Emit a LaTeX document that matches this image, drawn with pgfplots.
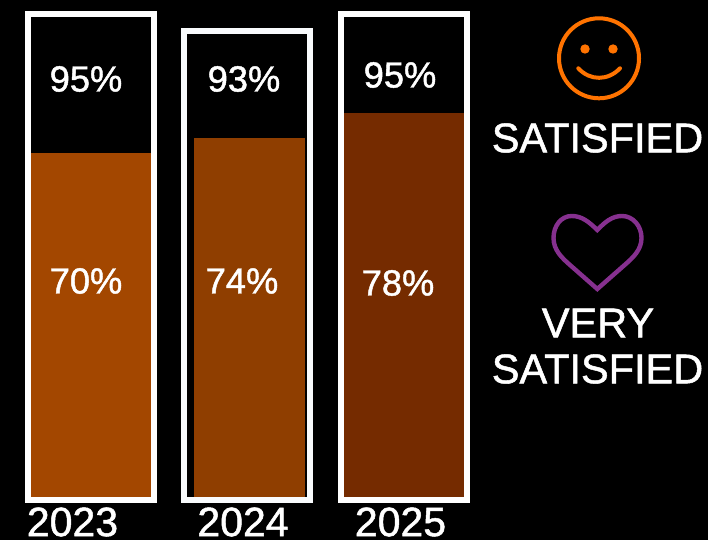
\documentclass[border=0pt]{standalone}
\usepackage{pgfplots}
\pgfplotsset{compat=1.18}
\usepackage{fontspec}
\setmainfont{Liberation Sans}[RawFeature={embolden=1.2}]
\definecolor{c23}{HTML}{A34700}
\definecolor{c24}{HTML}{8F3E00}
\definecolor{c25}{HTML}{752B00}
\definecolor{frame}{HTML}{F9FBFD}
\definecolor{smile}{HTML}{FF7300}
\definecolor{heart}{HTML}{86308F}
\newcommand{\sz}[1]{\fontsize{#1}{#1}\selectfont}
\tikzset{lab/.style={text=white, inner sep=0pt, outer sep=0pt, anchor=center, font=\sz{#1}}}
\begin{document}
\begin{tikzpicture}[x=1pt,y=1pt]
\useasboundingbox (0,0) rectangle (708,540);
\fill[black] (0,0) rectangle (708,540);
\begin{axis}[
  at={(0pt,0pt)}, anchor=south west,
  scale only axis, width=708pt, height=540pt,
  xmin=0, xmax=708, ymin=-40, ymax=500,
  hide axis, clip=false,
  ybar,
]
% Very satisfied (filled part); y = height in reference pixels above the bar base
\addplot[bar shift=0pt, bar width=120pt, fill=c23, draw=none] coordinates {(90.5,347)};
\addplot[bar shift=0pt, bar width=111pt, fill=c24, draw=none] coordinates {(249.5,362)};
\addplot[bar shift=0pt, bar width=120pt, fill=c25, draw=none] coordinates {(404,387)};
% Satisfied (white frames)
\addplot[bar shift=0pt, bar width=125.5pt, fill=none, draw=white, line width=6pt] coordinates {(90.75,486)};
\addplot[bar shift=0pt, bar width=126pt, fill=none, draw=frame, line width=6pt] coordinates {(247,468.5)};
\addplot[bar shift=0pt, bar width=126pt, fill=none, draw=white, line width=6pt] coordinates {(404,486)};
% Value labels
\node[lab=36.3] at (axis cs:86,421) {95\%};
\node[lab=36.3] at (axis cs:244,421) {93\%};
\node[lab=36.3] at (axis cs:400,425) {95\%};
\node[lab=36.3] at (axis cs:86,219) {70\%};
\node[lab=36.3] at (axis cs:242,219) {74\%};
\node[lab=36.3] at (axis cs:398,217) {78\%};
% Years
\node[lab=41] at (axis cs:72.5,-22) {2023};
\node[lab=41] at (axis cs:243,-22) {2024};
\node[lab=41] at (axis cs:400.5,-22) {2025};
% Legend text
\node[lab=41.5] at (axis cs:597.5,362) {SATISFIED};
\node[lab=41.5] at (axis cs:598,177) {VERY};
\node[lab=41.5] at (axis cs:597.5,131) {SATISFIED};
% Smiley
\draw[smile, line width=4pt] (axis cs:599,441.7) circle[radius=40pt];
\fill[smile] (axis cs:585,451) circle[radius=4.7pt];
\fill[smile] (axis cs:613,451) circle[radius=4.7pt];
\draw[smile, line width=4pt, line cap=round] (axis cs:578.3,431.7) .. controls (axis cs:590,419) and (axis cs:608,419) .. (axis cs:620,431.7);
% Heart
\draw[heart, line width=4.4pt, line join=miter] (axis cs:597.3,270)
  .. controls (axis cs:589,278) and (axis cs:582,284) .. (axis cs:571.7,284)
  .. controls (axis cs:561,284) and (axis cs:553.5,274) .. (axis cs:553.5,262)
  .. controls (axis cs:553.5,250) and (axis cs:562,242) .. (axis cs:570,235)
  -- (axis cs:597.3,211)
  -- (axis cs:624.6,235)
  .. controls (axis cs:632.6,242) and (axis cs:641.5,250) .. (axis cs:641.5,262)
  .. controls (axis cs:641.5,274) and (axis cs:633,284) .. (axis cs:622,284)
  .. controls (axis cs:612,284) and (axis cs:605,278) .. cycle;
\end{axis}
\end{tikzpicture}
\end{document}
